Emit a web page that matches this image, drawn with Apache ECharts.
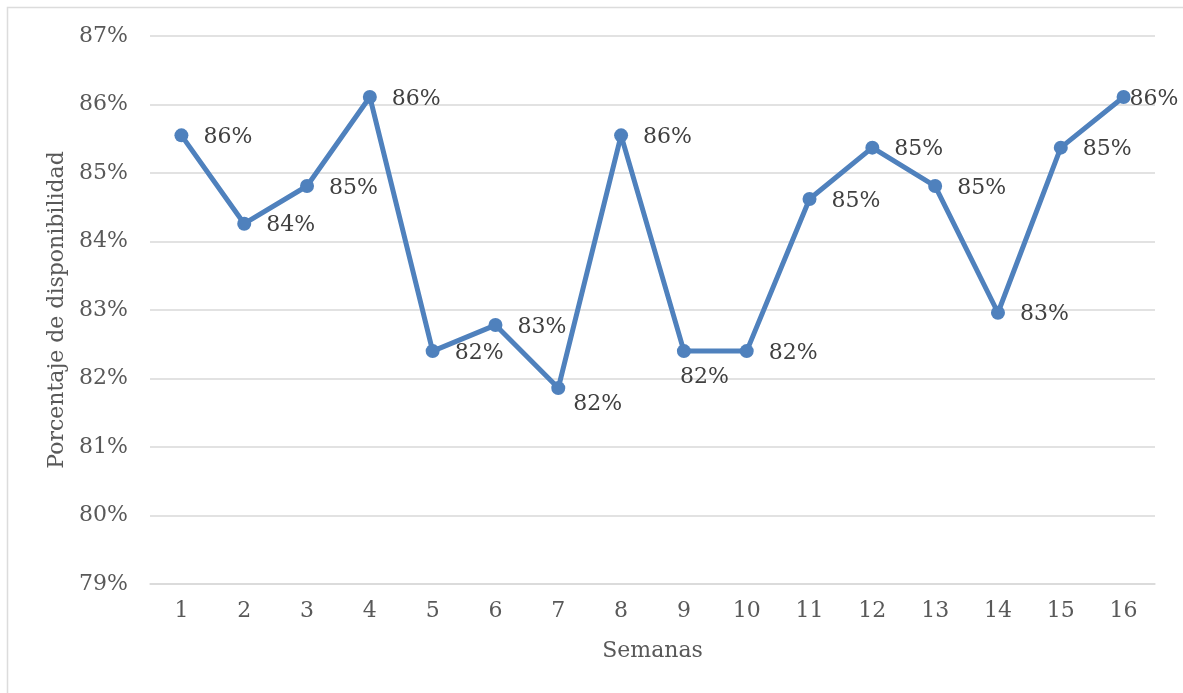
<!DOCTYPE html>
<html>
<head>
<meta charset="utf-8">
<script src="https://cdn.jsdelivr.net/npm/echarts@6/dist/echarts.min.js"></script>
<style>
  html, body { margin: 0; padding: 0; background: #fff; }
  #chart { width: 1183px; height: 693px; }
</style>
</head>
<body>
<div id="chart"></div>
<script>
// Weekly availability (percent)
const semanas = ['1','2','3','4','5','6','7','8','9','10','11','12','13','14','15','16'];
const disponibilidad = [85.55, 84.26, 84.81, 86.11, 82.40, 82.78, 81.86, 85.55, 82.40, 82.40, 84.62, 85.37, 84.81, 82.96, 85.37, 86.11];
const yTicks = { min: 79, max: 87, step: 1 };

// Label nudges for points whose value label sits below or is squeezed at the edge
const labelOffsets = { 6: [-7, 16], 8: [-26, 26], 15: [-16, 2] };

const FONT = 'DejaVu Serif';
const FS = 22;
const chart = echarts.init(document.getElementById('chart'));

chart.setOption({
  backgroundColor: '#ffffff',
  animation: false,
  textStyle: { fontFamily: FONT },
  graphic: [{
    type: 'rect',
    shape: { x: 7.5, y: 7.5, width: 1200, height: 700 },
    style: { fill: 'none', stroke: '#dcdcdc', lineWidth: 1.5 },
    silent: true,
    z: -1
  }],
  grid: { left: 150, right: 28, top: 36, bottom: 109 },
  xAxis: {
    type: 'category',
    data: semanas,
    boundaryGap: true,
    name: 'Semanas',
    nameLocation: 'middle',
    nameGap: 56,
    nameTextStyle: { fontFamily: FONT, fontSize: FS, color: '#595959' },
    axisLine: { show: true, lineStyle: { color: '#d9d9d9', width: 1.5 } },
    axisTick: { show: false },
    axisLabel: { fontFamily: FONT, fontSize: FS, color: '#595959', margin: 16 }
  },
  yAxis: {
    type: 'value',
    min: yTicks.min,
    max: yTicks.max,
    interval: yTicks.step,
    name: 'Porcentaje de disponibilidad',
    nameLocation: 'middle',
    nameGap: 81,
    nameTextStyle: { fontFamily: FONT, fontSize: FS, color: '#595959' },
    axisLine: { show: false },
    axisTick: { show: false },
    splitLine: { lineStyle: { color: '#d9d9d9', width: 1.5 } },
    axisLabel: {
      fontFamily: FONT, fontSize: FS, color: '#595959', margin: 22,
      formatter: v => v + '%'
    }
  },
  series: [{
    type: 'line',
    data: disponibilidad.map((v, i) => {
      const item = { value: v };
      if (labelOffsets[i]) item.label = { offset: labelOffsets[i] };
      return item;
    }),
    symbol: 'circle',
    symbolSize: 14,
    lineStyle: { color: '#4f81bd', width: 5 },
    itemStyle: { color: '#4f81bd' },
    label: {
      show: true,
      position: 'right',
      distance: 15,
      offset: [0, 2],
      fontFamily: FONT,
      fontSize: FS,
      color: '#404040',
      formatter: p => Math.round(p.value) + '%'
    },
    z: 3
  }]
});
</script>
</body>
</html>
